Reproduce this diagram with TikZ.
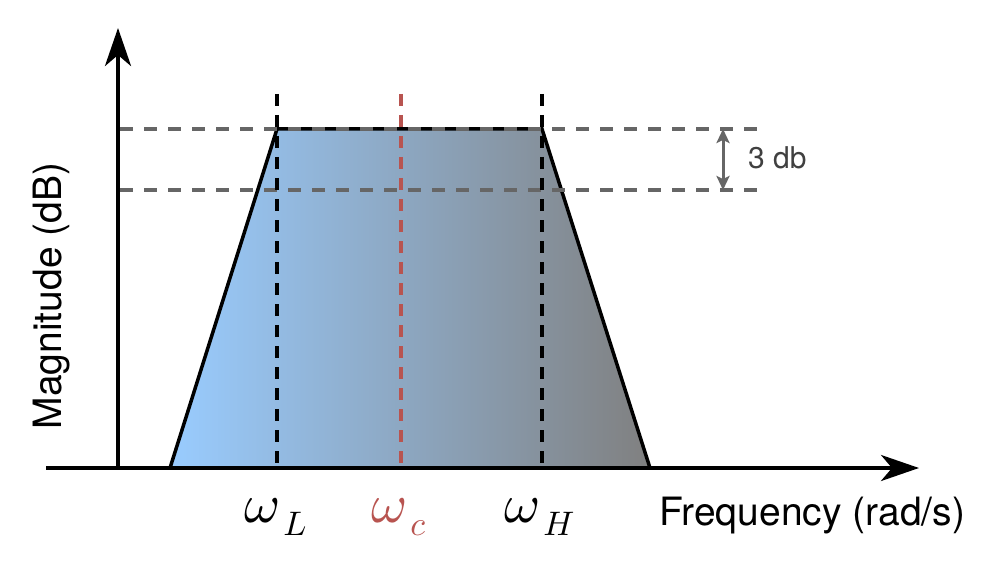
\documentclass[tikz,border=0pt]{standalone}
\usepackage{fontspec}
\setmainfont{TeX Gyre Heros}
\usetikzlibrary{arrows.meta}
\definecolor{passblue}{RGB}{153,204,255}
\definecolor{passgray}{RGB}{128,128,128}
\definecolor{guide}{RGB}{102,102,102}
\definecolor{centerred}{RGB}{184,84,80}
\newcommand{\wsym}{\scalebox{5.5}{$\omega$}}
\newcommand{\wsub}[1]{\hspace{3pt}\raisebox{-13pt}{\scalebox{3.4}{$#1$}}}
\tikzset{
  axis/.style={line width=4pt,-{Stealth[length=38pt,width=26pt,inset=11pt]}},
  guideline/.style={guide,line width=3.5pt,dash pattern=on 13pt off 11pt},
  cutline/.style={line width=4pt,dash pattern=on 12pt off 9pt},
  biglabel/.style={font=\fontsize{39}{47}\selectfont,inner sep=0pt},
  mathlabel/.style={inner sep=0pt,anchor=base west},
  smalllabel/.style={font=\fontsize{30}{36}\selectfont,text=black!75,inner sep=0pt},
}
\begin{document}
\begin{tikzpicture}[x=1pt,y=-1pt]
\useasboundingbox (0,0) rectangle (992,588);
% corners
\coordinate (bl) at (170,468);
\coordinate (tl) at (277,129);
\coordinate (tr) at (542,129);
\coordinate (br) at (650,468);
% band
\shade[left color=passblue,right color=passgray] (bl) -- (tl) -- (tr) -- (br) -- cycle;
\draw[line width=3.5pt,line join=miter] (bl) -- (tl) -- (tr) -- (br);
% guides
\coordinate (g1a) at (120,129); \coordinate (g1b) at (760,129);
\coordinate (g2a) at (120,190); \coordinate (g2b) at (760,190);
\draw[guideline] (g1a) -- (g1b);
\draw[guideline] (g2a) -- (g2b);
% cutoffs
\coordinate (lt) at (277,94); \coordinate (lb) at (277,466);
\coordinate (ct) at (401,94); \coordinate (cb) at (401,466);
\coordinate (ht) at (542,94); \coordinate (hb) at (542,466);
\draw[cutline] (lt) -- (lb);
\draw[cutline,centerred] (ct) -- (cb);
\draw[cutline] (ht) -- (hb);
% 3 db arrow
\coordinate (da) at (723,129); \coordinate (db) at (723,190);
\draw[guide,line width=3pt,{Stealth[length=14pt,width=13pt,inset=3pt]}-{Stealth[length=14pt,width=13pt,inset=3pt]}] (da) -- (db);
\node[smalllabel,anchor=west] (dblabel) at (748,158) {3 db};
% axes
\coordinate (o) at (118,468);
\coordinate (xs) at (46,468);
\coordinate (xe) at (919,468);
\coordinate (ye) at (118,28);
\draw[axis] (xs) -- (xe);
\draw[axis] (o) -- (ye);
% labels
\node[mathlabel] (wl) at (244,522) {\wsym\wsub{L}};
\node[mathlabel,text=centerred] (wc) at (371,522) {\wsym\wsub{c}};
\node[mathlabel] (wh) at (504,522) {\wsym\wsub{H}};
\node[biglabel,anchor=west] (freq) at (659,516) {Frequency (rad/s)};
\node[biglabel,rotate=90] (mag) at (52,296) {Magnitude (dB)};
\end{tikzpicture}
\end{document}
